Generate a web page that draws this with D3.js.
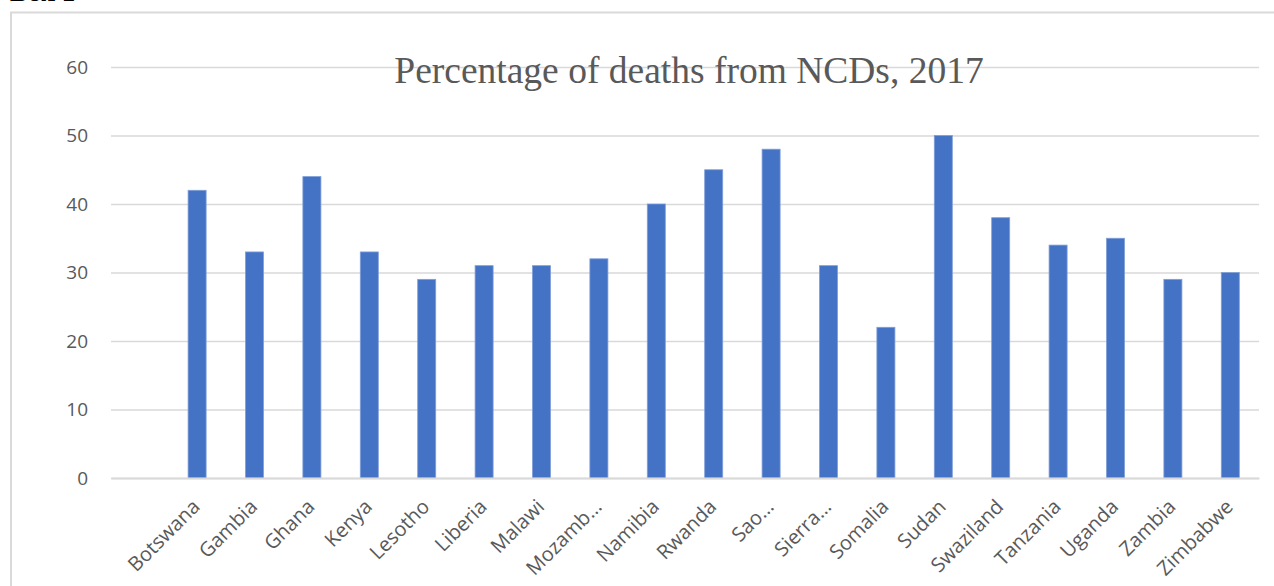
<!DOCTYPE html>
<html>
<head>
<meta charset="utf-8">
<script src="https://cdn.jsdelivr.net/npm/d3@7"></script>
<style>
  html, body { margin: 0; padding: 0; background: #fff; }
  svg { display: block; }
</style>
</head>
<body>
<svg id="chart" width="1274" height="586"></svg>
<script>
// Share of all deaths caused by non-communicable diseases, 2017.
// The leading blank entry is an empty row in the source table.
const countries = ["", "Botswana", "Gambia", "Ghana", "Kenya", "Lesotho", "Liberia", "Malawi",
  "Mozamb\u2026", "Namibia", "Rwanda", "Sao\u2026", "Sierra\u2026", "Somalia", "Sudan",
  "Swaziland", "Tanzania", "Uganda", "Zambia", "Zimbabwe"];
const ncdShare = [null, 42, 33, 44, 33, 29, 31, 31, 32, 40, 45, 48, 31, 22, 50, 38, 34, 35, 29, 30];
const yTicks = [0, 10, 20, 30, 40, 50, 60];
const titleText = "Percentage of deaths from NCDs, 2017";

const svg = d3.select("#chart");
const plot = { left: 111, right: 1259, top: 67, bottom: 478 };

// Frame around the chart area
svg.append("path")
  .attr("d", "M11,587 V12.5 H1275")
  .attr("fill", "none")
  .attr("stroke", "#d9d9d9")
  .attr("stroke-width", 2);

// Caption above the frame, mostly clipped by the page edge
svg.append("text")
  .attr("x", 10).attr("y", 1.2)
  .attr("font-family", "Liberation Serif, serif")
  .attr("font-weight", "bold")
  .attr("font-size", 27)
  .attr("fill", "#000")
  .text("Box 1");

const data = countries.map((c, i) => ({ country: c, value: ncdShare[i], key: i }));

const pad = 0.686;
const x = d3.scaleBand()
  .domain(data.map(d => d.key))
  .range([plot.left, plot.right])
  .paddingInner(pad)
  .paddingOuter(pad / 2);

const y = d3.scaleLinear().domain([0, 60]).range([plot.bottom, plot.top]);

// Horizontal gridlines and value labels
const yAxis = d3.axisLeft(y)
  .tickValues(yTicks)
  .tickSize(-(plot.right - plot.left))
  .tickPadding(23);

const gy = svg.append("g")
  .attr("transform", `translate(${plot.left},0)`)
  .call(yAxis);
gy.select(".domain").remove();
gy.selectAll(".tick line")
  .attr("stroke", "#d9d9d9")
  .attr("stroke-width", 1.3);
gy.selectAll(".tick text")
  .attr("font-family", "Open Sans, Liberation Sans, sans-serif")
  .attr("font-size", 19)
  .attr("fill", "#595959");

// Chart title, drawn over the top gridline
svg.append("text")
  .attr("x", 689).attr("y", 83)
  .attr("text-anchor", "middle")
  .attr("font-family", "Liberation Serif, Times New Roman, serif")
  .attr("font-size", 37.5)
  .attr("fill", "#595959")
  .text(titleText);

// Bars
svg.append("g").selectAll("rect")
  .data(data.filter(d => d.value != null))
  .join("rect")
  .attr("x", d => x(d.key))
  .attr("width", x.bandwidth())
  .attr("y", d => y(d.value))
  .attr("height", d => y(0) - y(d.value))
  .attr("fill", "#4472c4")
  .attr("stroke", "#7f9fd8")
  .attr("stroke-width", 0.8);

// Category axis
const xAxis = d3.axisBottom(x)
  .tickSize(0)
  .tickFormat(k => countries[k]);
const gx = svg.append("g")
  .attr("transform", `translate(0,${plot.bottom})`)
  .call(xAxis);
gx.select(".domain")
  .attr("stroke", "#d9d9d9")
  .attr("stroke-width", 2);
gx.selectAll(".tick text")
  .attr("font-family", "Open Sans, Liberation Sans, sans-serif")
  .attr("font-size", 20)
  .attr("fill", "#595959")
  .attr("text-anchor", "end")
  .attr("dy", null)
  .attr("y", 0)
  .attr("transform", "translate(4,30) rotate(-45)");
</script>
</body>
</html>
